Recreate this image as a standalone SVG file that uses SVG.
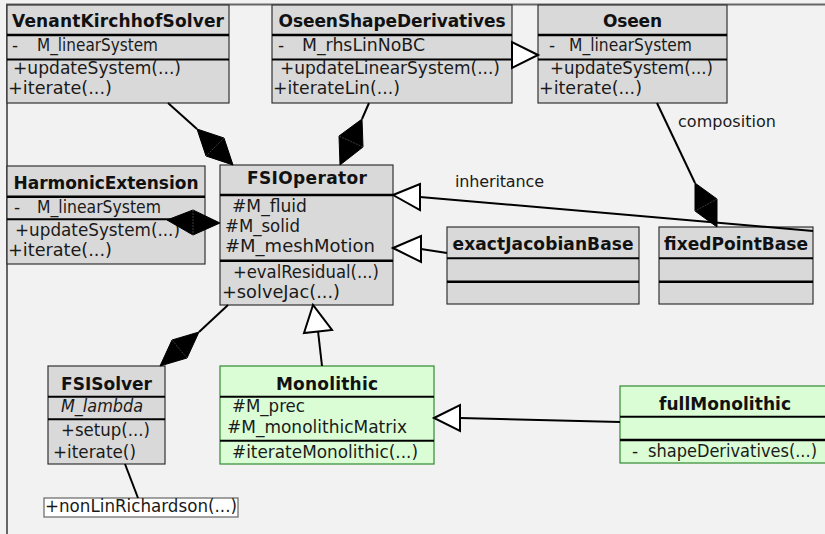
<svg xmlns="http://www.w3.org/2000/svg" width="825" height="534" viewBox="0 0 825 534">
  <style>
    .box { fill: #d9d9d9; stroke: #333; stroke-width: 1.2; }
    .gbox { fill: #dbfdd6; stroke: #2f8a2f; stroke-width: 1.2; }
    .sep { stroke: #000; stroke-width: 2.5; }
    .sep2 { stroke: #000; stroke-width: 2; }
    .title { font-family: "DejaVu Sans", "Liberation Sans", sans-serif; font-size: 17px; font-weight: bold; fill: #111; text-anchor: middle; }
    .txt { font-family: "DejaVu Sans", "Liberation Sans", sans-serif; font-size: 17px; fill: #1a1a1a; }
    .it { font-style: italic; }
    .lbl { font-family: "DejaVu Sans", "Liberation Sans", sans-serif; font-size: 16px; fill: #1a1a1a; }
    .ln { stroke: #000; stroke-width: 2; fill: none; }
    .dia { fill: #000; stroke: #000; stroke-width: 1; }
    .seam { stroke: #666; stroke-width: 0.6; stroke-dasharray: 2 1; }
    .tri { fill: #fff; stroke: #000; stroke-width: 2; stroke-linejoin: miter; }
    .frame { stroke: #666; stroke-width: 2; fill: none; }
  </style>

  <rect x="0" y="0" width="825" height="534" fill="#f2f2f2"/>
  <path class="frame" d="M7 534 V4.5 H825"/>

  <g id="VenantKirchhofSolver">
    <rect class="box" x="7" y="5" width="222" height="98"/>
    <line class="sep" x1="7" y1="35" x2="229" y2="35"/>
    <line class="sep2" x1="7" y1="59.5" x2="229" y2="59.5"/>
    <text class="title" x="118" y="27" textLength="212">VenantKirchhofSolver</text>
    <text class="txt" x="12" y="51">-</text>
    <text class="txt" x="37" y="51" textLength="121" lengthAdjust="spacingAndGlyphs">M_linearSystem</text>
    <text class="txt" x="13" y="74" textLength="168" lengthAdjust="spacingAndGlyphs">+updateSystem(...)</text>
    <text class="txt" x="8" y="94" textLength="104" lengthAdjust="spacingAndGlyphs">+iterate(...)</text>
  </g>

  <g id="OseenShapeDerivatives">
    <rect class="box" x="272" y="5" width="240" height="98"/>
    <line class="sep" x1="272" y1="35" x2="512" y2="35"/>
    <line class="sep2" x1="272" y1="59.5" x2="512" y2="59.5"/>
    <text class="title" x="392" y="27" textLength="227">OseenShapeDerivatives</text>
    <text class="txt" x="278" y="51">-</text>
    <text class="txt" x="302" y="51" textLength="123" lengthAdjust="spacingAndGlyphs">M_rhsLinNoBC</text>
    <text class="txt" x="280" y="74" textLength="220" lengthAdjust="spacingAndGlyphs">+updateLinearSystem(...)</text>
    <text class="txt" x="273" y="94" textLength="127" lengthAdjust="spacingAndGlyphs">+iterateLin(...)</text>
  </g>

  <g id="Oseen">
    <rect class="box" x="538" y="5" width="189" height="98"/>
    <line class="sep" x1="538" y1="35" x2="727" y2="35"/>
    <line class="sep2" x1="538" y1="59.5" x2="727" y2="59.5"/>
    <text class="title" x="632.5" y="27" textLength="59">Oseen</text>
    <text class="txt" x="549" y="51">-</text>
    <text class="txt" x="569" y="51" textLength="123" lengthAdjust="spacingAndGlyphs">M_linearSystem</text>
    <text class="txt" x="550" y="74" textLength="163" lengthAdjust="spacingAndGlyphs">+updateSystem(...)</text>
    <text class="txt" x="539" y="94" textLength="103" lengthAdjust="spacingAndGlyphs">+iterate(...)</text>
  </g>

  <g id="HarmonicExtension">
    <rect class="box" x="7" y="166" width="198" height="98"/>
    <line class="sep" x1="7" y1="196.7" x2="205" y2="196.7"/>
    <line class="sep2" x1="7" y1="219.3" x2="205" y2="219.3"/>
    <text class="title" x="106" y="189" textLength="185">HarmonicExtension</text>
    <text class="txt" x="14" y="213">-</text>
    <text class="txt" x="37" y="213" textLength="124" lengthAdjust="spacingAndGlyphs">M_linearSystem</text>
    <text class="txt" x="15" y="236" textLength="165" lengthAdjust="spacingAndGlyphs">+updateSystem(...)</text>
    <text class="txt" x="8" y="256" textLength="104" lengthAdjust="spacingAndGlyphs">+iterate(...)</text>
  </g>

  <g id="FSIOperator">
    <rect class="box" x="220" y="165" width="173" height="140"/>
    <line class="sep" x1="220" y1="195" x2="393" y2="195"/>
    <line class="sep" x1="220" y1="260.7" x2="393" y2="260.7"/>
    <text class="title" x="307" y="184" textLength="120">FSIOperator</text>
    <text class="txt" x="232" y="212" textLength="75" lengthAdjust="spacingAndGlyphs">#M_fluid</text>
    <text class="txt" x="225" y="232" textLength="75" lengthAdjust="spacingAndGlyphs">#M_solid</text>
    <text class="txt" x="225" y="252" textLength="150" lengthAdjust="spacingAndGlyphs">#M_meshMotion</text>
    <text class="txt" x="233" y="278" textLength="146" lengthAdjust="spacingAndGlyphs">+evalResidual(...)</text>
    <text class="txt" x="222" y="298" textLength="118" lengthAdjust="spacingAndGlyphs">+solveJac(...)</text>
  </g>

  <g id="exactJacobianBase">
    <rect class="box" x="447" y="227" width="192" height="77"/>
    <line class="sep2" x1="447" y1="258.3" x2="639" y2="258.3"/>
    <line class="sep" x1="447" y1="281.7" x2="639" y2="281.7"/>
    <text class="title" x="543" y="250" textLength="181">exactJacobianBase</text>
  </g>

  <g id="fixedPointBase">
    <rect class="box" x="659" y="227" width="154" height="77"/>
    <line class="sep2" x1="659" y1="258.3" x2="813" y2="258.3"/>
    <line class="sep" x1="659" y1="281.7" x2="813" y2="281.7"/>
    <text class="title" x="736" y="250" textLength="144">fixedPointBase</text>
  </g>

  <g id="FSISolver">
    <rect class="box" x="48" y="366" width="117" height="98"/>
    <line class="sep2" x1="48" y1="396.7" x2="165" y2="396.7"/>
    <line class="sep2" x1="48" y1="419.3" x2="165" y2="419.3"/>
    <text class="title" x="106.5" y="390" textLength="91">FSISolver</text>
    <text class="txt it" x="61" y="412" textLength="82" lengthAdjust="spacingAndGlyphs">M_lambda</text>
    <text class="txt" x="61" y="436" textLength="89" lengthAdjust="spacingAndGlyphs">+setup(...)</text>
    <text class="txt" x="53" y="458" textLength="83" lengthAdjust="spacingAndGlyphs">+iterate()</text>
  </g>

  <g id="Monolithic">
    <rect class="gbox" x="220" y="366" width="214" height="98"/>
    <line class="sep2" x1="220" y1="396.7" x2="434" y2="396.7"/>
    <line class="sep2" x1="220" y1="440.7" x2="434" y2="440.7"/>
    <text class="title" x="327" y="390" textLength="102">Monolithic</text>
    <text class="txt" x="232" y="412" textLength="73" lengthAdjust="spacingAndGlyphs">#M_prec</text>
    <text class="txt" x="227" y="433" textLength="180" lengthAdjust="spacingAndGlyphs">#M_monolithicMatrix</text>
    <text class="txt" x="232" y="458" textLength="186" lengthAdjust="spacingAndGlyphs">#iterateMonolithic(...)</text>
  </g>

  <g id="fullMonolithic">
    <rect class="gbox" x="620" y="386" width="210" height="77"/>
    <line class="sep2" x1="620" y1="416.7" x2="830" y2="416.7"/>
    <line class="sep" x1="620" y1="440" x2="830" y2="440"/>
    <text class="title" x="725" y="410" textLength="132">fullMonolithic</text>
    <text class="txt" x="632" y="457">-</text>
    <text class="txt" x="648" y="457" textLength="169" lengthAdjust="spacingAndGlyphs">shapeDerivatives(...)</text>
  </g>

  <g id="nonLinRichardson">
    <rect x="44" y="498" width="194" height="19" fill="#fff" stroke="#666" stroke-width="1.2"/>
    <text class="txt" x="45" y="512" textLength="192" lengthAdjust="spacingAndGlyphs">+nonLinRichardson(...)</text>
  </g>

  <g id="connectors">
    <!-- compositions (filled diamonds) -->
    <line class="ln" x1="168" y1="103" x2="197" y2="129"/>
    <polygon class="dia" points="197,129 224,138 233,165 206,156"/>
    <line class="seam" x1="224" y1="138" x2="206" y2="156"/>

    <line class="ln" x1="369" y1="103" x2="362" y2="119"/>
    <polygon class="dia" points="362,119 363,147 340,165 339,136"/>
    <line class="seam" x1="363" y1="147" x2="339" y2="136"/>

    <polygon class="dia" points="167,220 193,210 220,223 193,235"/>
    <line class="seam" x1="193" y1="210" x2="193" y2="235"/>

    <line class="ln" x1="657" y1="103" x2="695" y2="183"/>
    <polygon class="dia" points="695,183 717,199 717,227 695,211"/>
    <line class="seam" x1="717" y1="199" x2="695" y2="211"/>

    <line class="ln" x1="228" y1="305" x2="199" y2="332"/>
    <polygon class="dia" points="199,332 187,358 160,366 172,340"/>
    <line class="seam" x1="187" y1="358" x2="172" y2="340"/>

    <!-- generalisations (hollow triangles) -->
    <polygon class="tri" points="538,55 512,42 512,68"/>

    <line class="ln" x1="420" y1="197" x2="813" y2="231"/>
    <polygon class="tri" points="393,195 420,184 420,210"/>

    <line class="ln" x1="421" y1="249" x2="447" y2="253"/>
    <polygon class="tri" points="393,248 421,236 421,262"/>

    <line class="ln" x1="318" y1="331" x2="322" y2="366"/>
    <polygon class="tri" points="313,305 304,333 332,330"/>

    <line class="ln" x1="460" y1="418" x2="620" y2="422"/>
    <polygon class="tri" points="434,418 460,405 460,431"/>

    <!-- plain association to note -->
    <line class="ln" x1="125" y1="464" x2="138" y2="498"/>

    <text class="lbl" x="455" y="187" textLength="89">inheritance</text>
    <text class="lbl" x="678" y="127" textLength="98">composition</text>
  </g>
</svg>
